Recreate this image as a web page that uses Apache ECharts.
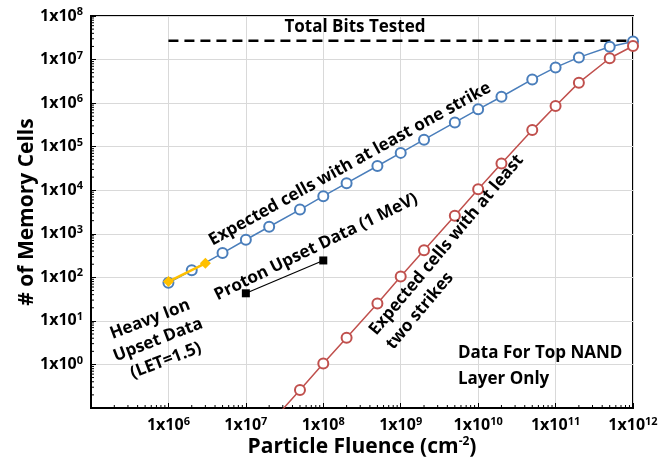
<!DOCTYPE html>
<html><head><meta charset="utf-8">
<script src="https://cdn.jsdelivr.net/npm/echarts@6/dist/echarts.min.js"></script>
<style>html,body{margin:0;padding:0;background:#fff}#c{width:661px;height:470px}</style>
</head><body><div id="c"></div>
<script>
// ---- data ----
const fluence = [1e6, 2e6, 5e6, 1e7, 2e7, 5e7, 1e8, 2e8, 5e8, 1e9, 2e9, 5e9, 1e10, 2e10, 5e10, 1e11, 2e11, 5e11, 1e12];
const oneStrike = [75, 145, 360, 730, 1450, 3600, 7300, 14500, 36000, 72000, 145000, 360000, 720000, 1.4e6, 3.5e6, 6.6e6, 1.12e7, 1.96e7, 2.6e7];
const twoStrikeFluence = [2e7, 5e7, 1e8, 2e8, 5e8, 1e9, 2e9, 5e9, 1e10, 2e10, 5e10, 1e11, 2e11, 5e11, 1e12];
const twoStrike = [0.042, 0.26, 1.05, 4.1, 25, 105, 420, 2600, 10500, 41000, 2.4e5, 8.6e5, 2.95e6, 1.07e7, 2.05e7];
const heavyIonFluence = [1e6, 3e6];
const heavyIon = [80, 210];
const protonFluence = [1e7, 1e8];
const proton = [43, 244];
const totalBitsFluence = [1e6, 1e12];
const totalBits = [2.7e7, 2.7e7];
const xMin = 1e5, xMax = 1e12, yMin = 0.1, yMax = 1e8;
const xDecades = [5, 6, 7, 8, 9, 10, 11];
const yDecades = [-1, 0, 1, 2, 3, 4, 5, 6, 7];
const minorMultipliers = [2, 3, 4, 5, 6, 7, 8, 9];

const FONT = 'Open Sans';
const zip = (a, b) => a.map((v, i) => [v, b[i]]);
const xMinorData = [];
xDecades.forEach(d => minorMultipliers.forEach(m => xMinorData.push([m * Math.pow(10, d), yMin])));
const yMinorData = [];
yDecades.forEach(d => minorMultipliers.forEach(m => yMinorData.push([xMin, m * Math.pow(10, d)])));

function expLabel(v, hide) {
  const e = Math.round(Math.log10(v));
  if (hide.indexOf(e) >= 0) return '';
  return '{b|1x10}{s|' + e + '}';
}
const richLab = {
  b: {fontFamily: FONT, fontWeight: 'bold', fontSize: 16, color: '#000'},
  s: {fontFamily: FONT, fontWeight: 'bold', fontSize: 11, color: '#000', padding: [0, 0, 8, 0]}
};

const chart = echarts.init(document.getElementById('c'));
const deg = Math.PI / 180;
const txt = (text, x, y, rot, size, align, lh) => ({
  type: 'text', x: x, y: y, rotation: rot * deg, z: 100,
  style: {text: text, fontFamily: FONT, fontWeight: 'bold', fontSize: size, fill: '#000',
    align: align || 'center', verticalAlign: 'middle', lineHeight: lh || (size + 5)}
});

chart.setOption({
  animation: false,
  backgroundColor: '#fff',
  grid: {left: 91, right: 28, top: 16, bottom: 62, show: true, borderColor: '#000', borderWidth: 2},
  xAxis: {
    type: 'log', min: xMin, max: xMax, logBase: 10, splitNumber: 7,
    axisLine: {lineStyle: {color: '#000', width: 2}},
    axisTick: {inside: true, length: 5, lineStyle: {color: '#000', width: 1}},
    splitLine: {show: true, lineStyle: {color: '#d9d9d9', width: 1}},
    axisLabel: {margin: 8, formatter: v => expLabel(v, [5]), rich: richLab},
    name: '{a|Particle Fluence (cm}{s|-2}{a|)}', nameLocation: 'middle', nameGap: 28,
    nameMoveOverlap: false,
    nameTextStyle: {rich: {
      a: {fontFamily: FONT, fontWeight: 'bold', fontSize: 21, color: '#000'},
      s: {fontFamily: FONT, fontWeight: 'bold', fontSize: 12, color: '#000', padding: [0, 0, 10, 0]}
    }}
  },
  yAxis: {
    type: 'log', min: yMin, max: yMax, logBase: 10, splitNumber: 9,
    axisLine: {lineStyle: {color: '#000', width: 2}},
    axisTick: {inside: true, length: 5, lineStyle: {color: '#000', width: 1}},
    splitLine: {show: true, lineStyle: {color: '#d9d9d9', width: 1}},
    axisLabel: {margin: 8, formatter: v => expLabel(v, [-1]), rich: richLab},
    name: '# of Memory Cells', nameLocation: 'middle', nameGap: 53,
    nameMoveOverlap: false,
    nameTextStyle: {fontFamily: FONT, fontWeight: 'bold', fontSize: 21, color: '#000'}
  },
  graphic: [
    txt('Total Bits Tested', 355, 27, 0, 17),
    txt('Expected cells with at least one strike', 350, 164, 29, 17),
    txt('Proton Upset Data (1 MeV)', 316, 247, 26, 17),
    txt('Heavy Ion\nUpset Data\n(LET=1.5)', 158, 340, 21, 17, 'center', 22),
    txt('Expected cells with at least\ntwo strikes', 381, 340, 50, 17, 'left', 22),
    txt('Data For Top NAND\nLayer Only', 458, 366, 0, 17, 'left', 26)
  ],
  series: [
    {type: 'line', data: zip(totalBitsFluence, totalBits), symbol: 'none', z: 3,
      lineStyle: {color: '#000', width: 2.5, type: [10, 6]}},
    {type: 'line', data: zip(fluence, oneStrike), symbol: 'circle', symbolSize: 10, z: 4,
      lineStyle: {color: '#4a7ebb', width: 1.5},
      itemStyle: {color: '#fff', borderColor: '#4a7ebb', borderWidth: 2}},
    {type: 'line', data: zip(twoStrikeFluence, twoStrike), symbol: 'circle', symbolSize: 10, z: 4,
      lineStyle: {color: '#c0504d', width: 1.5},
      itemStyle: {color: '#fff', borderColor: '#c0504d', borderWidth: 2}},
    {type: 'line', data: zip(heavyIonFluence, heavyIon), symbol: 'diamond', symbolSize: 11, z: 5,
      lineStyle: {color: '#ffc000', width: 2.5},
      itemStyle: {color: '#ffc000'}},
    {type: 'line', data: zip(protonFluence, proton), symbol: 'rect', symbolSize: 8, z: 5,
      lineStyle: {color: '#000', width: 1.2},
      itemStyle: {color: '#000'}},
    {type: 'custom', data: xMinorData, silent: true, z: 6, clip: false,
      renderItem: (params, api) => {
        const p = api.coord([api.value(0), api.value(1)]);
        return {type: 'line', shape: {x1: p[0], y1: p[1], x2: p[0], y2: p[1] - 3}, style: {stroke: '#000', lineWidth: 1}};
      }},
    {type: 'custom', data: yMinorData, silent: true, z: 6, clip: false,
      renderItem: (params, api) => {
        const p = api.coord([api.value(0), api.value(1)]);
        return {type: 'line', shape: {x1: p[0], y1: p[1], x2: p[0] + 3, y2: p[1]}, style: {stroke: '#000', lineWidth: 1}};
      }}
  ]
});
</script></body></html>
